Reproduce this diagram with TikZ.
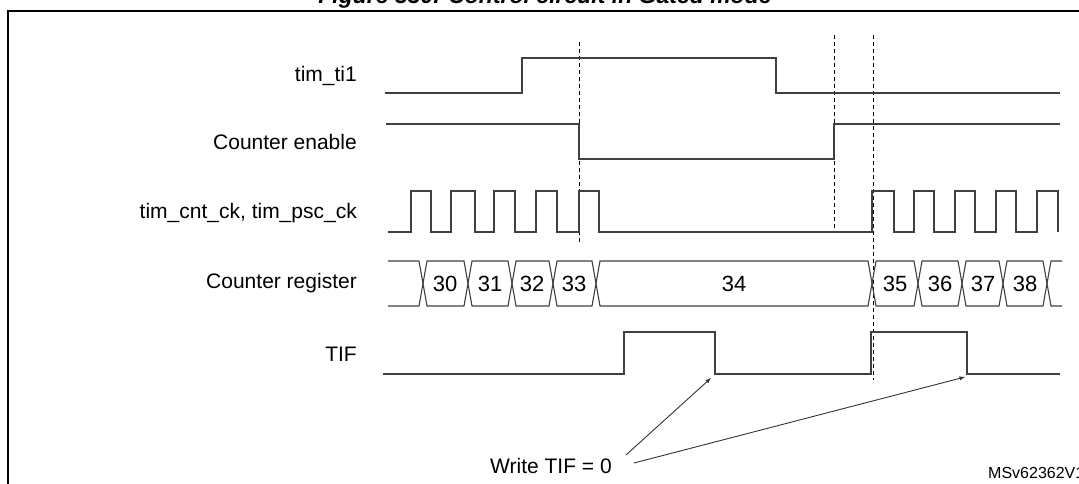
\documentclass[tikz,border=0pt]{standalone}
\usepackage{fontspec}
\setmainfont{Liberation Sans}
\begin{document}
\begin{tikzpicture}[x=1pt,y=-1pt,
  sig/.style={draw=black!75,line width=1.1pt},
  lbl/.style={font=\fontsize{21}{24}\selectfont,anchor=east,inner sep=0},
  num/.style={font=\fontsize{22}{26}\selectfont,inner sep=0},
  vmark/.style={draw=black,line width=0.8pt,dash pattern=on 4pt off 3pt}]
\useasboundingbox (0,0) rectangle (1079,484);
\clip (0,0) rectangle (1079,484);
\node[font=\bfseries\itshape\fontsize{23}{26}\selectfont] (title) at (545,-2) {Figure 330. Control circuit in Gated mode};
\draw[line width=1.4pt] (8,495) -- (8,11) -- (1090,11);
% labels
\node[lbl] (l1) at (357,76) {tim\_ti1};
\node[lbl] (l2) at (357,142) {Counter enable};
\node[lbl] (l3) at (357,213) {tim\_cnt\_ck, tim\_psc\_ck};
\node[lbl] (l4) at (357,283) {Counter register};
\node[lbl] (l5) at (357,354) {TIF};
% dashed markers
\draw[vmark] (579,42) -- (579,242);
\draw[vmark] (834,35) -- (834,232);
\draw[vmark] (873,35) -- (873,380);
% tim_ti1
\draw[sig] (385,93) -- (522,93) -- (522,58) -- (776,58) -- (776,93) -- (1060,93);
% counter enable
\draw[sig] (386,124) -- (579,124) -- (579,159) -- (834,159) -- (834,124) -- (1060,124);
% clock
\draw[sig] (388,232) -- (411,232) -- (411,191) -- (431,191) -- (431,232) -- (451,232) -- (451,191) -- (475,191) -- (475,232)
  -- (494,232) -- (494,191) -- (515,191) -- (515,232) -- (536,232) -- (536,191) -- (557,191) -- (557,232)
  -- (579,232) -- (579,191) -- (599,191) -- (599,232) -- (872,232) -- (872,191) -- (894,191) -- (894,232)
  -- (914,232) -- (914,191) -- (934,191) -- (934,232) -- (955,232) -- (955,191) -- (975,191) -- (975,232)
  -- (996,232) -- (996,191) -- (1016,191) -- (1016,232) -- (1037,232) -- (1037,191) -- (1058,191) -- (1058,232);
% counter register
\def\yt{261}\def\yb{306}\def\d{4}
\draw[sig] (388,\yt) -- (423-\d,\yt) -- (423+\d,\yb) -- (468-\d,\yb) -- (468+\d,\yt) -- (512-\d,\yt) -- (512+\d,\yb)
  -- (553-\d,\yb) -- (553+\d,\yt) -- (596-\d,\yt) -- (596+\d,\yb) -- (872-\d,\yb) -- (872+\d,\yt) -- (918-\d,\yt)
  -- (918+\d,\yb) -- (962-\d,\yb) -- (962+\d,\yt) -- (1003-\d,\yt) -- (1003+\d,\yb) -- (1047-\d,\yb) -- (1047+\d,\yt) -- (1062,\yt);
\draw[sig] (388,\yb) -- (423-\d,\yb) -- (423+\d,\yt) -- (468-\d,\yt) -- (468+\d,\yb) -- (512-\d,\yb) -- (512+\d,\yt)
  -- (553-\d,\yt) -- (553+\d,\yb) -- (596-\d,\yb) -- (596+\d,\yt) -- (872-\d,\yt) -- (872+\d,\yb) -- (918-\d,\yb)
  -- (918+\d,\yt) -- (962-\d,\yt) -- (962+\d,\yb) -- (1003-\d,\yb) -- (1003+\d,\yt) -- (1047-\d,\yt) -- (1047+\d,\yb) -- (1062,\yb);
\node[num] (n30) at (445,284) {30};
\node[num] (n31) at (490,284) {31};
\node[num] (n32) at (532,284) {32};
\node[num] (n33) at (574,284) {33};
\node[num] (n34) at (734,284) {34};
\node[num] (n35) at (895,284) {35};
\node[num] (n36) at (940,284) {36};
\node[num] (n37) at (983,284) {37};
\node[num] (n38) at (1025,284) {38};
% TIF
\draw[sig] (383,374) -- (624,374) -- (624,332) -- (715,332) -- (715,374) -- (871,374) -- (871,332) -- (967,332) -- (967,374) -- (1060,374);
\coordinate (a1) at (711,378);
\coordinate (a2) at (965,377);
\node[font=\fontsize{21}{24}\selectfont,inner sep=1pt,anchor=west] (w) at (489,466) {Write TIF = 0};
\draw[-latex,line width=0.9pt,black!80] (626,455) -- (a1);
\draw[-latex,line width=0.9pt,black!80] (634,463) -- (a2);
\node[font=\fontsize{16}{19}\selectfont,anchor=west,inner sep=0] (id) at (988,473) {MSv62362V1};
\end{tikzpicture}
\end{document}
